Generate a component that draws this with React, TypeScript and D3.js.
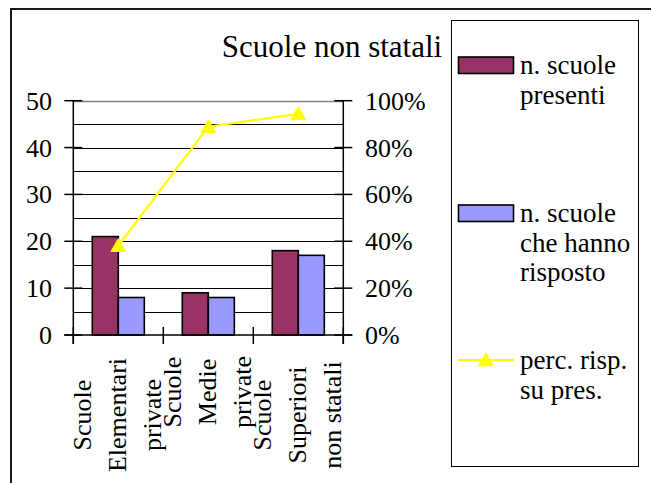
import React, { useEffect, useRef } from "react";
import * as d3 from "d3";

const categories = ["Scuole Elementari private", "Scuole Medie private", "Scuole Superiori non statali"];
const categoryLines = [
  ["Scuole", "Elementari", "private"],
  ["Scuole", "Medie", "private"],
  ["Scuole", "Superiori", "non statali"],
];
const seriesNames = ["n. scuole presenti", "n. scuole che hanno risposto"];
const presenti = [21, 9, 18];
const risposto = [8, 8, 17];
const percRisp = [0.381, 0.889, 0.944];
const leftTicks = [0, 10, 20, 30, 40, 50];
const rightTicks = [0, 0.2, 0.4, 0.6, 0.8, 1];
const gridValues = [5, 10, 15, 20, 25, 30, 35, 40, 45];
const title = "Scuole non statali";

const colors = ["#993366", "#9999FF"];
const lineColor = "#FFFF00";
const FF = "Liberation Serif";
// per-category vertical centre of the rotated label block (layout)
const labelCenterY = [415, 392, 415];

const legendEntries = [
  { lines: ["n. scuole", "presenti"], kind: "bar", color: colors[0], cy: 65 },
  { lines: ["n. scuole", "che hanno", "risposto"], kind: "bar", color: colors[1], cy: 213 },
  { lines: ["perc. risp.", "su pres."], kind: "line", color: lineColor, cy: 360 },
];

export default function App() {
  const ref = useRef<HTMLDivElement>(null);
  useEffect(() => {
    if (!ref.current) return;
    ref.current.querySelectorAll("text, tspan").forEach((el) => {
      (el as HTMLElement).style.setProperty("font-family", `"${FF}", "Times New Roman", serif`, "important");
    });
  });
  const left = 73.3, right = 343.3, top = 100.7, bottom = 335;
  const y = d3.scaleLinear().domain([0, 50]).range([bottom, top]);
  const yR = d3.scaleLinear().domain([0, 1]).range([bottom, top]);
  const x = d3.scaleBand<string>().domain(categories).range([left, right]).padding(0);
  const xs = d3.scaleBand<number>().domain([0, 1]).range([0, x.bandwidth()]).paddingInner(0).paddingOuter(0.73);
  const values = [presenti, risposto];
  const cx = (c: string) => (x(c) as number) + x.bandwidth() / 2;
  const lineGen = d3.line<number>().x((_, i) => cx(categories[i])).y((d) => yR(d));
  const tri = d3.symbol().type(d3.symbolTriangle).size(95)() as string;
  const fs = 26;
  const catEdges = [...categories.map((c) => x(c) as number), right];
  const ts = { fontFamily: FF };

  return (
    <div ref={ref} style={{ fontFamily: FF, position: "absolute", left: 0, top: 0 }}>
      <svg width={651} height={483} style={{ display: "block", fontFamily: FF }}>
        <rect x={11} y={9} width={700} height={600} fill="#fff" stroke="#000" strokeWidth={1.8} />
        <text x={332} y={57} fontSize={31} textAnchor="middle" style={ts}>{title}</text>

        {gridValues.map((v) => (
          <line key={v} x1={left} x2={right} y1={Math.round(y(v)) + 0.5} y2={Math.round(y(v)) + 0.5} stroke="#000" strokeWidth={1} />
        ))}
        <line x1={left} x2={right} y1={Math.round(y(50)) + 0.5} y2={Math.round(y(50)) + 0.5} stroke="#808080" strokeWidth={1.5} />

        {categories.map((c, i) =>
          values.map((vals, s) => (
            <rect key={c + s} x={(x(c) as number) + (xs(s) as number)} y={y(vals[i])} width={xs.bandwidth()} height={bottom - y(vals[i])}
              fill={colors[s]} stroke="#000" strokeWidth={1.6} />
          ))
        )}

        <line x1={left} x2={left} y1={top} y2={bottom + 9} stroke="#000" strokeWidth={1.5} />
        <line x1={right} x2={right} y1={top} y2={bottom + 9} stroke="#000" strokeWidth={1.5} />
        <line x1={left - 9} x2={right + 9} y1={bottom} y2={bottom} stroke="#000" strokeWidth={1.5} />
        {leftTicks.map((t) => (
          <g key={"l" + t}>
            <line x1={left - 9} x2={left + 9} y1={y(t)} y2={y(t)} stroke="#000" strokeWidth={1.5} />
            <text x={52} y={y(t) + 9} fontSize={fs} textAnchor="end" style={ts}>{t}</text>
          </g>
        ))}
        {rightTicks.map((t) => (
          <g key={"r" + t}>
            <line x1={right - 9} x2={right + 9} y1={yR(t)} y2={yR(t)} stroke="#000" strokeWidth={1.5} />
            <text x={365} y={yR(t) + 9} fontSize={fs} textAnchor="start" style={ts}>{d3.format(".0%")(t)}</text>
          </g>
        ))}
        {catEdges.map((e, i) => (
          <line key={"c" + i} x1={e} x2={e} y1={bottom - 8} y2={bottom + 9} stroke="#000" strokeWidth={1.5} />
        ))}

        {categories.map((c, i) => {
          const cxx = cx(c);
          const cy = labelCenterY[i];
          return (
            <text key={"t" + c} transform={`translate(${cxx + 8},${cy}) rotate(-90)`} fontSize={fs} textAnchor="middle" style={ts}>
              {categoryLines[i].map((ln, k) => (
                <tspan key={k} x={0} y={(k - 1) * 35}>{ln}</tspan>
              ))}
            </text>
          );
        })}

        <path d={lineGen(percRisp) as string} fill="none" stroke={lineColor} strokeWidth={2.2} />
        {percRisp.map((p, i) => (
          <path key={"m" + i} d={tri} transform={`translate(${cx(categories[i])},${yR(p) + 1.5})`} fill={lineColor} stroke={lineColor} />
        ))}

        <rect x={451.5} y={20.5} width={187} height={446} fill="#fff" stroke="#000" strokeWidth={1} />
        {legendEntries.map((e, i) => (
          <g key={"lg" + i}>
            {e.kind === "bar" ? (
              <rect x={458.5} y={e.cy - 8} width={55} height={16.5} fill={e.color} stroke="#000" strokeWidth={1.6} />
            ) : (
              <g>
                <line x1={458} x2={514} y1={e.cy} y2={e.cy} stroke={e.color} strokeWidth={2.2} />
                <path d={tri} transform={`translate(486,${e.cy + 1.5})`} fill={e.color} stroke={e.color} />
              </g>
            )}
            <text x={520} y={e.cy + 9} fontSize={27} style={ts}>
              {e.lines.map((ln, k) => (
                <tspan key={k} x={520} y={e.cy + 9 + k * 29.7}>{ln}</tspan>
              ))}
            </text>
          </g>
        ))}
        <desc>{seriesNames.join(",")}</desc>
      </svg>
    </div>
  );
}
